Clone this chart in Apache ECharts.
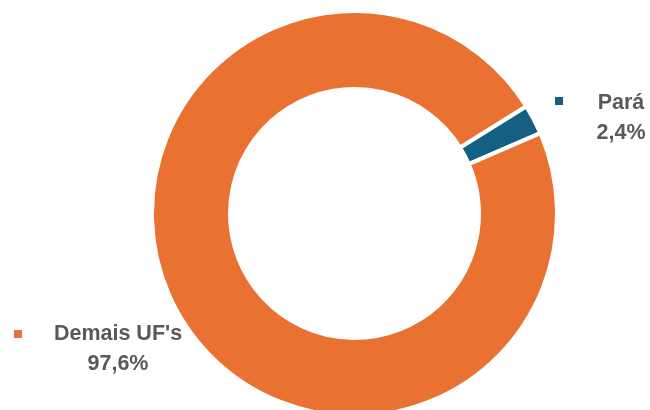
<!DOCTYPE html>
<html>
<head>
<meta charset="utf-8">
<script src="https://cdn.jsdelivr.net/npm/echarts@6/dist/echarts.min.js"></script>
<style>
  html, body { margin: 0; padding: 0; background: #fff; }
  #chart { width: 650px; height: 410px; }
</style>
</head>
<body>
<div id="chart"></div>
<script>
const categories = ['Pará', "Demais UF's"];
const shares = [2.4, 97.6];
const colors = ['#156082', '#E97132'];

document.addEventListener('DOMContentLoaded', () => {
    const chartEl = document.getElementById('chart');
    if (!chartEl) return;
    const chart = echarts.init(chartEl);

    const fontFamily = "'Liberation Sans', Arial, sans-serif";

    // posições dos rótulos (centro do bloco de texto) e dos quadradinhos
    const labelPos = [{ x: 621, y: 118 }, { x: 118, y: 349 }];
    const keyPos = [{ left: 553, top: 95 }, { left: 12, top: 328 }];

    const pieData = categories.map((name, i) => ({
        name,
        value: shares[i],
        itemStyle: { color: colors[i] }
    }));

    const legends = categories.map((name, i) => ({
        data: [name],
        left: keyPos[i].left,
        top: keyPos[i].top,
        icon: 'rect',
        itemWidth: 10,
        itemHeight: 10,
        itemGap: 0,
        padding: 0,
        selectedMode: false,
        formatter: () => '',
        textStyle: { fontSize: 1 }
    }));

    const option = {
        backgroundColor: '#fff',
        animation: false,
        legend: legends,
        series: [
            {
                name: 'Participação',
                type: 'pie',
                center: [354.5, 213.5],
                radius: [124.5, 202.5],
                startAngle: 32,
                clockwise: true,
                avoidLabelOverlap: false,
                itemStyle: { borderColor: '#fff', borderWidth: 4 },
                label: {
                    show: true,
                    position: 'outside',
                    formatter: (p) => `${p.name}\n${p.value.toFixed(1).replace('.', ',')}%`,
                    color: '#595959',
                    fontFamily,
                    fontWeight: 'bold',
                    fontSize: 21.5,
                    lineHeight: 30,
                    align: 'center'
                },
                labelLine: { show: false },
                labelLayout: (params) => ({
                    x: labelPos[params.dataIndex].x,
                    y: labelPos[params.dataIndex].y,
                    align: 'center',
                    verticalAlign: 'middle'
                }),
                emphasis: { disabled: true },
                data: pieData
            }
        ]
    };

    chart.setOption(option, true);
});
</script>
</body>
</html>
